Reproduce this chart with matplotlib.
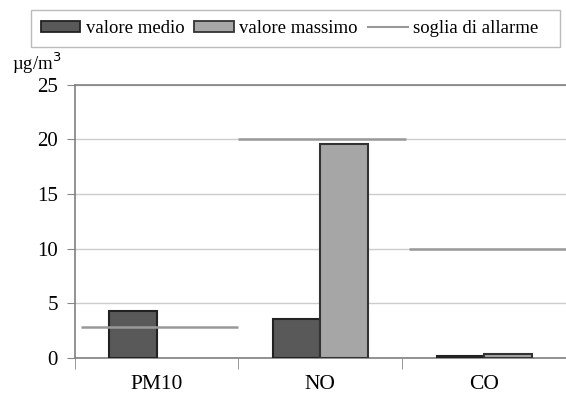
import matplotlib.pyplot as plt
import numpy as np
from matplotlib.patches import Patch, Rectangle
from matplotlib.lines import Line2D

categorie = ["PM10", "NO", "CO"]
valore_medio = [4.3, 3.55, 0.18]
valore_massimo = [0.0, 19.6, 0.35]
soglia = [2.85, 20.0, 10.0]

plt.rcParams["font.family"] = ["Liberation Serif", "DejaVu Serif"]

fig = plt.figure(figsize=(5.66, 3.99), dpi=100)
ax = fig.add_axes([74.7 / 566, (399 - 358) / 399, 1 - 74.7 / 566, (358 - 84.5) / 399])

x = np.arange(len(categorie))
w = 0.29
c_medio = "#595959"
c_max = "#a6a6a6"

ax.set_axisbelow(True)
ax.yaxis.grid(True, color="#cccccc", linewidth=1)

ax.bar(x - w / 2, valore_medio, w, color=c_medio, edgecolor="#222222", linewidth=1.5, zorder=3)
mask = np.array(valore_massimo) > 0
ax.bar(x[mask] + w / 2, np.array(valore_massimo)[mask], w, color=c_max,
       edgecolor="#333333", linewidth=1.5, zorder=3)

# soglia di allarme: segmenti orizzontali per categoria
x0 = [-0.46, 0.5, 1.54]
x1 = [0.5, 1.52, 2.6]
for a, b, s in zip(x0, x1, soglia):
    ax.plot([a, b], [s, s], color="#999999", linewidth=1.8, zorder=4, solid_capstyle="butt")

ax.set_xlim(-0.5, -0.5 + (566 - 74.7) / 166.8)
ax.set_ylim(0, 25)
ax.set_yticks([0, 5, 10, 15, 20, 25])
ax.set_xticks(x)
ax.set_xticklabels(categorie, fontsize=15.5)
ax.tick_params(axis="x", length=0, pad=12)
ax.set_xticks([-0.5, 0.5, 1.5, 2.5], minor=True)
ax.tick_params(axis="x", which="minor", length=8, color="#888888", direction="out")
ax.tick_params(axis="y", labelsize=15, length=6, color="#888888", pad=6)

for side in ["left", "bottom", "top"]:
    ax.spines[side].set_color("#808080")
    ax.spines[side].set_linewidth(1.2)
ax.spines["right"].set_visible(False)

fig.text(12 / 566, 1 - 63 / 399, "µg/m$^3$", fontsize=13.5, ha="left", va="center")

# cornice della legenda
fig.patches.append(Rectangle((30.7 / 566, 1 - 46.7 / 399), (560 - 30.7) / 566, 36.7 / 399,
                             transform=fig.transFigure, facecolor="white",
                             edgecolor="#bbbbbb", linewidth=1, zorder=0))

handles = [
    Patch(facecolor=c_medio, edgecolor="#222222", linewidth=1.3),
    Patch(facecolor=c_max, edgecolor="#333333", linewidth=1.3),
    Line2D([0], [0], color="#999999", linewidth=1.5),
]
leg = fig.legend(handles, ["valore medio", "valore massimo", "soglia di allarme"],
                 loc="center left", bbox_to_anchor=(40.5 / 566, 1 - 28.4 / 399), ncol=3,
                 fontsize=13.5, frameon=False,
                 handlelength=2.13, handleheight=0.57, handletextpad=0.27,
                 columnspacing=0.55, borderpad=0.0, borderaxespad=0)

fig.savefig("out.png", dpi=100)
